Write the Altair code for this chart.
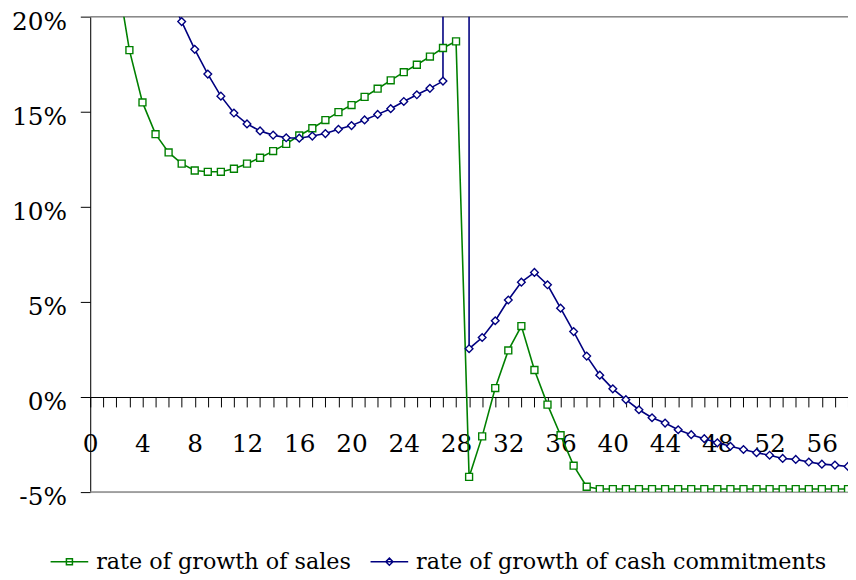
import altair as alt
import pandas as pd

FONT = "DejaVu Serif"
GREEN = "#008000"
NAVY = "#000080"

SALES_LABEL = "rate of growth of sales"
CASH_LABEL = "rate of growth of cash commitments"

# x positions (periods)
sales_x = list(range(2, 59))
cash_x = list(range(6, 59))

# rate of growth of sales (%)
sales = [22.4, 18.24, 15.49, 13.82, 12.86, 12.27, 11.91, 11.84, 11.84, 12.00,
         12.27, 12.58, 12.93, 13.31, 13.75, 14.13, 14.56, 14.98, 15.35, 15.78,
         16.21, 16.65, 17.08, 17.47, 17.90, 18.35, 18.70,
         -4.20, -2.07, 0.47, 2.45, 3.73, 1.42, -0.40, -2.01, -3.61, -4.72,
         -4.84, -4.84, -4.84, -4.84, -4.84, -4.84, -4.84, -4.84, -4.84, -4.84,
         -4.84, -4.84, -4.84, -4.84, -4.84, -4.84, -4.84, -4.84, -4.84, -4.84]

# rate of growth of cash commitments (%)
cash = [21.2, 19.74, 18.28, 16.98, 15.82, 14.93, 14.36, 13.99, 13.77, 13.63,
        13.61, 13.72, 13.85, 14.08, 14.27, 14.57, 14.86, 15.16, 15.54, 15.89,
        16.23, 16.61,
        5000.0,
        2.54, 3.13, 4.01, 5.10, 6.04, 6.55, 5.90, 4.67, 3.44, 2.15,
        1.15, 0.43, -0.14, -0.67, -1.09, -1.37, -1.72, -1.98, -2.19, -2.41,
        -2.59, -2.76, -2.93, -3.06, -3.23, -3.28, -3.42, -3.53, -3.58, -3.65]

gridlines = [20, -5]
y_ticks = [-5, 0, 5, 10, 15, 20]
x_ticks = list(range(0, 59))

df = pd.concat([
    pd.DataFrame({"x": sales_x, "value": sales, "series": SALES_LABEL}),
    pd.DataFrame({"x": cash_x, "value": cash, "series": CASH_LABEL}),
], ignore_index=True)
grid_df = pd.DataFrame({"value": gridlines})

x_enc = alt.X(
    "x:Q",
    scale=alt.Scale(domain=[0, 58], nice=False, zero=False),
    axis=alt.Axis(
        values=x_ticks, format="d",
        labelExpr="datum.value % 4 === 0 ? datum.label : ''",
        offset=-96, domainColor="black", domainWidth=1,
        tickColor="black", tickWidth=1, tickSize=10,
        labelFont=FONT, labelFontSize=25, labelColor="black",
        labelPadding=25, labelFlush=False, labelOverlap=False, labelBound=False,
        grid=False, title=None,
    ),
)
y_enc = alt.Y(
    "value:Q",
    scale=alt.Scale(domain=[-5, 20], nice=False, zero=False),
    axis=alt.Axis(
        values=y_ticks, labelExpr="datum.value + '%'",
        domainColor="black", domainWidth=1,
        tickColor="black", tickWidth=1, tickSize=10,
        labelFont=FONT, labelFontSize=25, labelColor="black",
        labelPadding=14, labelOffset=5,
        labelFlush=False, labelOverlap=False, labelBound=False,
        grid=False, title=None,
    ),
)

SQ_PATH = "M-1,0H1M-0.16,-0.16H0.16V0.16H-0.16Z"
DI_PATH = "M-1,0H1M0,-0.19L0.19,0L0,0.19L-0.19,0Z"

legend = alt.Legend(
    title=None, orient="none", legendX=-41, legendY=530, direction="horizontal",
    labelFont=FONT, labelFontSize=22.5, labelColor="black", labelLimit=1000,
    symbolSize=1444, symbolStrokeWidth=1.5, labelOffset=7, columnPadding=16,
    padding=0, symbolOpacity=1, symbolFillColor="white",
)

color_scale = alt.Scale(domain=[SALES_LABEL, CASH_LABEL], range=[GREEN, NAVY])
shape_scale = alt.Scale(domain=[SALES_LABEL, CASH_LABEL], range=[SQ_PATH, DI_PATH])

rules = alt.Chart(grid_df).mark_rule(color="#8a8a8a", strokeWidth=1.5).encode(y=y_enc)

lines = alt.Chart(df).mark_line(strokeWidth=1.6, clip=True).encode(
    x=x_enc, y=y_enc,
    color=alt.Color("series:N", scale=color_scale, legend=legend),
)

# invisible layer that only carries the legend symbols (line + marker)
legend_layer = alt.Chart(df).mark_point(opacity=0, clip=True).encode(
    x=x_enc, y=y_enc,
    color=alt.Color("series:N", scale=color_scale, legend=legend),
    shape=alt.Shape("series:N", scale=shape_scale, legend=legend),
)

pts_sales = alt.Chart(df).transform_filter(
    alt.datum.series == SALES_LABEL
).mark_point(shape="square", size=49, fill="white", fillOpacity=1, stroke=GREEN,
             strokeWidth=1.4, opacity=1, clip=True).encode(x=x_enc, y=y_enc)

pts_cash = alt.Chart(df).transform_filter(
    alt.datum.series == CASH_LABEL
).mark_point(shape="diamond", size=60, fill="white", fillOpacity=1, stroke=NAVY,
             strokeWidth=1.4, opacity=1, clip=True).encode(x=x_enc, y=y_enc)

chart = alt.layer(rules, lines, legend_layer, pts_sales, pts_cash).properties(
    width=765, height=480,
    autosize=alt.AutoSizeParams(type="none"),
    padding={"left": 83, "top": 6, "right": 0, "bottom": 84},
).configure_view(stroke=None).configure(font=FONT)

chart.save("out.html", embed_options={"renderer": "svg", "actions": False})
